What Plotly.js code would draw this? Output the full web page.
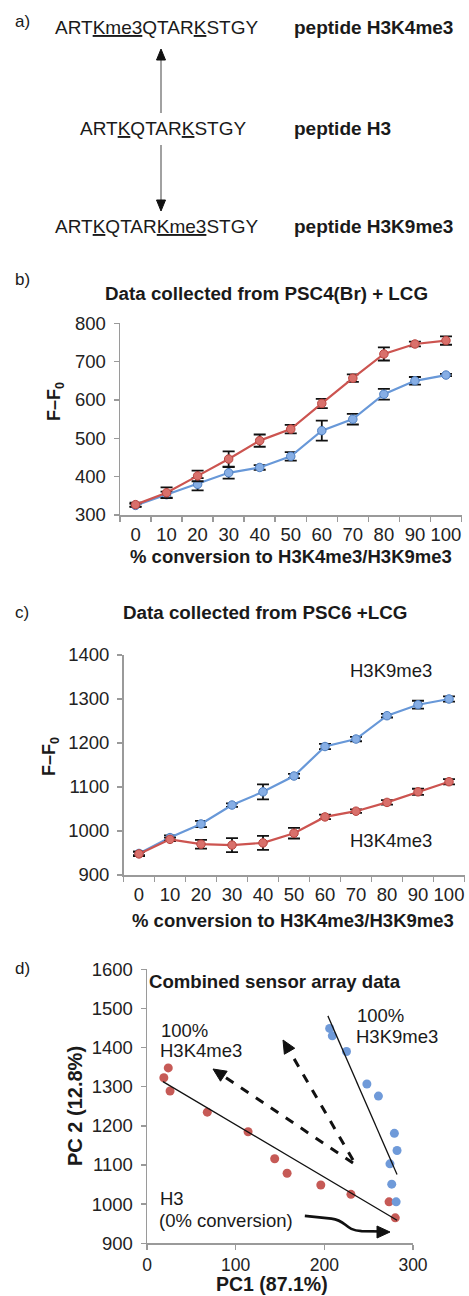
<!DOCTYPE html>
<html>
<head>
<meta charset="utf-8">
<script src="https://cdn.plot.ly/plotly-3.0.1.min.js"></script>
<style>
  html, body { margin: 0; padding: 0; background: #fff; }
  #chart { width: 469px; height: 1296px; }
</style>
</head>
<body>
<div id="chart"></div>
<script>
// ---------------- DATA ----------------
const categories = ['0', '10', '20', '30', '40', '50', '60', '70', '80', '90', '100'];

// panel b: PSC4(Br) + LCG
const bH3K4me3 = [327, 358, 402, 446, 494, 524, 591, 657, 720, 746, 755];
const bH3K4me3Err = [5, 14, 14, 20, 16, 11, 12, 10, 17, 6, 11];
const bH3K9me3 = [325, 353, 380, 410, 424, 453, 520, 550, 615, 650, 665];
const bH3K9me3Err = [4, 8, 16, 15, 6, 11, 26, 14, 14, 10, 3];

// panel c: PSC6 + LCG
const cH3K9me3 = [949, 985, 1016, 1059, 1089, 1125, 1192, 1209, 1262, 1287, 1300];
const cH3K9me3Err = [4, 5, 7, 4, 17, 5, 6, 5, 4, 9, 6];
const cH3K4me3 = [948, 981, 970, 968, 973, 995, 1032, 1045, 1065, 1089, 1112];
const cH3K4me3Err = [5, 4, 10, 16, 16, 12, 5, 4, 5, 7, 6];

// panel d: combined sensor array (PCA scores)
const dK4PC1 = [24, 19, 26, 68, 114, 144, 158, 196, 230, 273, 280];
const dK4PC2 = [1348, 1323, 1289, 1235, 1185, 1116, 1079, 1049, 1025, 1006, 965];
const dK9PC1 = [206, 209, 225, 248, 261, 279, 282, 274, 276, 281];
const dK9PC2 = [1449, 1430, 1390, 1307, 1276, 1181, 1137, 1103, 1051, 1006];

// trend lines (end points) in panel d
const dK4TrendPC1 = [18, 282];
const dK4TrendPC2 = [1313, 959];
const dK9TrendPC1 = [204, 282];
const dK9TrendPC2 = [1481, 1076];

// ---------------- HELPERS ----------------
const W = 469, H = 1296;
const px = v => v / W;
const py = v => 1 - v / H;
const FONT = '"Liberation Sans", Arial, Helvetica, sans-serif';
const RED_LINE = '#cc5450', RED_MK = '#d9706b', RED_EDGE = '#b9443f';
const BLUE_LINE = '#6898d8', BLUE_MK = '#86aee5', BLUE_EDGE = '#4f7fc0';
const AX = '#9a9a9a';

function lineTrace(y, err, lc, mc, me, xa, ya) {
  return {
    type: 'scatter', mode: 'lines+markers', x: categories, y: y,
    xaxis: xa, yaxis: ya,
    line: { color: lc, width: 2.2 },
    marker: { size: 8.5, color: mc, line: { color: me, width: 1 } },
    error_y: { type: 'data', array: err, visible: true, color: '#111', thickness: 1.8, width: 6 },
    hoverinfo: 'skip'
  };
}

const traces = [
  lineTrace(bH3K9me3, bH3K9me3Err, BLUE_LINE, BLUE_MK, BLUE_EDGE, 'x', 'y'),
  lineTrace(bH3K4me3, bH3K4me3Err, RED_LINE, RED_MK, RED_EDGE, 'x', 'y'),
  lineTrace(cH3K9me3, cH3K9me3Err, BLUE_LINE, BLUE_MK, BLUE_EDGE, 'x2', 'y2'),
  lineTrace(cH3K4me3, cH3K4me3Err, RED_LINE, RED_MK, RED_EDGE, 'x2', 'y2'),
  { type: 'scatter', mode: 'markers', x: dK4PC1, y: dK4PC2, xaxis: 'x3', yaxis: 'y3',
    marker: { size: 9, color: '#c65a56' }, hoverinfo: 'skip' },
  { type: 'scatter', mode: 'markers', x: dK9PC1, y: dK9PC2, xaxis: 'x3', yaxis: 'y3',
    marker: { size: 9, color: '#6f9ad9' }, hoverinfo: 'skip' },
  { type: 'scatter', mode: 'lines', x: dK4TrendPC1, y: dK4TrendPC2, xaxis: 'x3', yaxis: 'y3',
    line: { color: '#111', width: 1.3 }, hoverinfo: 'skip' },
  { type: 'scatter', mode: 'lines', x: dK9TrendPC1, y: dK9TrendPC2, xaxis: 'x3', yaxis: 'y3',
    line: { color: '#111', width: 1.3 }, hoverinfo: 'skip' }
];

const tickFont = { family: FONT, size: 18.5, color: '#222' };

function catAxis(domain, anchor) {
  return {
    domain: domain, anchor: anchor, type: 'category', range: [-0.5, 10.5],
    showline: true, linecolor: AX, linewidth: 1.5, showgrid: false, zeroline: false,
    ticks: 'outside', tickson: 'boundaries', ticklen: 5, tickcolor: AX, tickwidth: 1.5,
    tickangle: 0, ticklabelstandoff: 2,
    tickfont: tickFont, fixedrange: true
  };
}
function valAxis(domain, anchor, range, dtick, standoff, fsize) {
  return {
    domain: domain, anchor: anchor, range: range, dtick: dtick,
    showline: true, linecolor: AX, linewidth: 1.5, showgrid: false, zeroline: false,
    ticks: 'outside', ticklen: 5, tickcolor: AX, tickwidth: 1.5,
    tickangle: 0, ticklabelstandoff: standoff,
    tickfont: Object.assign({}, tickFont, { size: fsize || tickFont.size }), fixedrange: true
  };
}

function txt(text, x, y, size, opts) {
  return Object.assign({
    text: text, x: px(x), y: py(y), xref: 'paper', yref: 'paper',
    showarrow: false, xanchor: 'center', yanchor: 'middle',
    font: { family: FONT, size: size, color: '#1a1a1a' }
  }, opts || {});
}

// arrow head triangle in pixel space -> paper path
function head(tx, ty, dx, dy, len, hw) {
  const n = Math.hypot(dx, dy); dx /= n; dy /= n;
  const bx = tx - dx * len, by = ty - dy * len;
  const p1 = [bx - dy * hw, by + dx * hw], p2 = [bx + dy * hw, by - dx * hw];
  return {
    type: 'path', xref: 'paper', yref: 'paper',
    path: `M ${px(tx)},${py(ty)} L ${px(p1[0])},${py(p1[1])} L ${px(p2[0])},${py(p2[1])} Z`,
    fillcolor: '#111', line: { color: '#111', width: 1 }
  };
}
function pline(x0, y0, x1, y1, color, width, dash) {
  return { type: 'line', xref: 'paper', yref: 'paper',
    x0: px(x0), y0: py(y0), x1: px(x1), y1: py(y1),
    line: { color: color, width: width, dash: dash || 'solid' } };
}

const annotations = [
  // panel labels
  txt('a)', 13, 22, 17, { xanchor: 'left' }),
  txt('b)', 13, 280, 17, { xanchor: 'left' }),
  txt('c)', 13, 612, 17, { xanchor: 'left' }),
  txt('d)', 13, 968, 17, { xanchor: 'left' }),

  // panel a text
  txt('ART<u>Kme3</u>QTAR<u>K</u>STGY', 53, 27, 19, { xanchor: 'left' }),
  txt('ART<u>K</u>QTAR<u>K</u>STGY', 78, 128, 19, { xanchor: 'left' }),
  txt('ART<u>K</u>QTAR<u>Kme3</u>STGY', 53, 227, 19, { xanchor: 'left' }),
  txt('<b>peptide H3K4me3</b>', 292, 27, 19, { xanchor: 'left' }),
  txt('<b>peptide H3</b>', 292, 128, 19, { xanchor: 'left' }),
  txt('<b>peptide H3K9me3</b>', 292, 227, 19, { xanchor: 'left' }),

  // panel b titles
  txt('<b>Data collected from PSC4(Br) + LCG</b>', 266, 293, 18.8),
  txt('<b>F–F<sub>0</sub></b>', 56, 402, 18, { textangle: -90 }),
  txt('<b>% conversion to H3K4me3/H3K9me3</b>', 291, 556, 18.5),

  // panel c titles
  txt('<b>Data collected from PSC6 +LCG</b>', 265, 612, 18.8),
  txt('<b>F–F<sub>0</sub></b>', 50, 757, 18, { textangle: -90 }),
  txt('<b>% conversion to H3K4me3/H3K9me3</b>', 293, 920, 18.5),
  txt('H3K9me3', 391, 670, 18.5),
  txt('H3K4me3', 391, 840, 18.5),

  // panel d titles
  txt('<b>Combined sensor array data</b>', 275, 981, 18.6),
  txt('<b>PC 2 (12.8%)</b>', 75, 1106, 20, { textangle: -90 }),
  txt('<b>PC1 (87.1%)</b>', 272, 1284, 19.5),
  txt('100%', 159, 1030, 18.5, { xanchor: 'left' }),
  txt('H3K4me3', 158, 1050, 18.5, { xanchor: 'left' }),
  txt('100%', 355, 1015, 18.5, { xanchor: 'left' }),
  txt('H3K9me3', 354, 1036, 18.5, { xanchor: 'left' }),
  txt('H3', 158, 1198, 18.5, { xanchor: 'left' }),
  txt('(0% conversion)', 157, 1220, 18.5, { xanchor: 'left' })
];

const shapes = [
  // panel a arrows
  pline(161, 113, 161, 58, '#8a8a8a', 1.6),
  head(161, 49, 0, -1, 11, 4.5),
  pline(161, 145, 161, 201, '#8a8a8a', 1.6),
  head(161, 211, 0, 1, 11, 4.5),
  // panel d dashed arrows
  pline(353, 1163, 222, 1075, '#111', 3, 'dash'),
  head(213, 1069, -0.832, -0.555, 13, 6),
  pline(353, 1160, 289, 1050, '#111', 3, 'dash'),
  head(283, 1040, -0.504, -0.864, 13, 6),
  // curved arrow "0% conversion"
  { type: 'path', xref: 'x3', yref: 'y3',
    path: 'M 178,970 L 208,963 C 226,958 222,934 242,931 L 266,930',
    line: { color: '#111', width: 2.6 } },
  head(390, 1232, 1, 0, 13, 6)
];

const layout = {
  width: W, height: H,
  margin: { l: 0, r: 0, t: 0, b: 0 },
  paper_bgcolor: '#fff', plot_bgcolor: '#fff',
  showlegend: false,
  font: { family: FONT, color: '#1a1a1a' },
  xaxis: catAxis([px(120), px(461.5)], 'y'),
  yaxis: valAxis([py(515), py(323.3)], 'x', [300, 800], 100, 4),
  xaxis2: catAxis([px(123.5), px(464.5)], 'y2'),
  yaxis2: valAxis([py(875), py(655)], 'x2', [900, 1400], 100, 4),
  xaxis3: valAxis([px(147), px(413)], 'y3', [0, 300], 100, 0, 17.5),
  yaxis3: valAxis([py(1243.3), py(969.3)], 'x3', [900, 1600], 100, 4),
  annotations: annotations,
  shapes: shapes
};

Plotly.newPlot('chart', traces, layout, { staticPlot: true, displayModeBar: false });
</script>
</body>
</html>
